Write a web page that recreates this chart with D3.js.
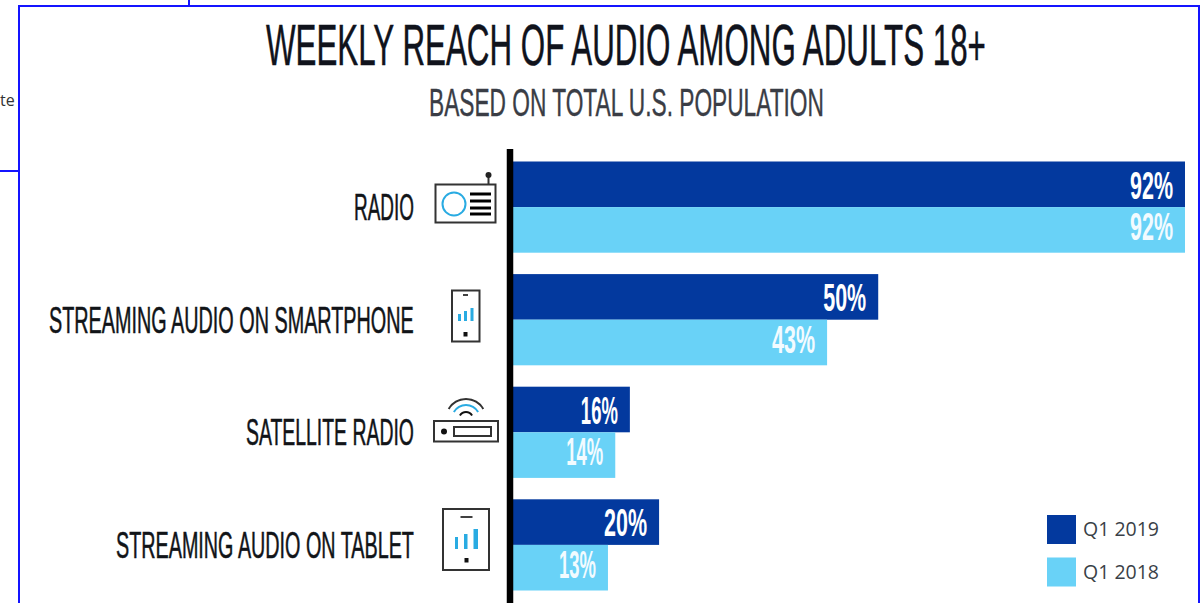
<!DOCTYPE html>
<html>
<head>
<meta charset="utf-8">
<script src="https://cdnjs.cloudflare.com/ajax/libs/d3/7.8.5/d3.min.js"></script>
<style>
html,body{margin:0;padding:0;background:#fff;overflow:hidden}
svg{display:block}
.cond{font-family:"Liberation Sans Narrow","Liberation Sans",sans-serif}
</style>
</head>
<body>
<svg id="chart" width="1203" height="603"></svg>
<script>
const categories = ["RADIO", "STREAMING AUDIO ON SMARTPHONE", "SATELLITE RADIO", "STREAMING AUDIO ON TABLET"];
const seriesNames = ["Q1 2019", "Q1 2018"];
const q12019 = [92, 50, 16, 20];
const q12018 = [92, 43, 14, 13];
const colors = ["#03399e", "#69d2f7"];

const svg = d3.select("#chart");
const FRAME = "#1414ff";

// Panel frame and the neighbouring window fragments
const frameSegments = [[18,6,1200,6],[19,6,19,603],[1199,6,1199,603],[189,0,189,6],[0,171,19,171]];
svg.selectAll("line.frame").data(frameSegments).join("line").attr("class","frame")
  .attr("x1",d=>d[0]).attr("y1",d=>d[1]).attr("x2",d=>d[2]).attr("y2",d=>d[3])
  .attr("stroke",FRAME).attr("stroke-width",2);
svg.append("text").attr("x",0).attr("y",106).attr("font-family","Open Sans").attr("font-size",16).attr("fill","#333").text("te");

// Tall condensed lettering: set at full height, then squeezed horizontally to a target width
function condensed(parent, xPos, yPos, size, width, anchor, txt, fill, weight, outline) {
  const t = parent.append("text").attr("class","cond")
    .attr("font-size",size).attr("font-weight",weight).attr("fill",fill)
    .attr("stroke",fill).attr("stroke-width",outline).text(txt);
  const natural = t.node().getComputedTextLength();
  const sx = width / natural;
  const left = anchor === "end" ? xPos - width : xPos;
  t.attr("transform",`translate(${left},${yPos}) scale(${sx},1)`);
  return t;
}
condensed(svg, 266, 65, 58, 720, "start", "WEEKLY REACH OF AUDIO AMONG ADULTS 18+", "#10131c", "normal", 0.5);
condensed(svg, 429, 116, 39, 395, "start", "BASED ON TOTAL U.S. POPULATION", "#3a3d45", "normal", 0.4);

const x = d3.scaleLinear().domain([0, 92]).range([513, 1185]);
const y = d3.scaleBand().domain(categories).range([161.5, 590.5]).paddingInner(0.19).paddingOuter(0);
const inner = d3.scaleBand().domain(seriesNames).range([0, y.bandwidth()]);

const categoryLabelWidths = [60, 365, 168, 298];
const rows = categories.map((c,i)=>({c, values:[q12019[i], q12018[i]], w:categoryLabelWidths[i]}));
const groups = svg.selectAll("g.row").data(rows).join("g").attr("class","row")
  .attr("transform",d=>`translate(0,${y(d.c)})`);

groups.selectAll("rect").data(d=>d.values.map((v,i)=>({v,i}))).join("rect")
  .attr("x",x(0)).attr("y",d=>inner(seriesNames[d.i]))
  .attr("width",d=>x(d.v)-x(0)).attr("height",inner.bandwidth())
  .attr("fill",d=>colors[d.i]);

// Value labels sit inside the bar ends
groups.each(function(row){
  const g = d3.select(this);
  row.values.forEach((v,i)=>{
    const w = String(v).startsWith("1") ? 37 : 43;
    condensed(g, x(v)-12, inner(seriesNames[i]) + (i===0 ? 37 : 33), 38, w, "end", v+"%", i===0 ? "#ffffff" : "#f2fbff", "bold", 0);
  });
  condensed(g, 414, y.bandwidth()/2+13, 37, row.w, "end", row.c, "#111418", "normal", 0.55);
});

// Category baseline
svg.append("line").attr("x1",510).attr("x2",510).attr("y1",149).attr("y2",603).attr("stroke","#000").attr("stroke-width",6.5);

// Pictograms
const INK = "#333", BLUE = "#29abe2";
const icons = svg.append("g").attr("fill","none").attr("stroke",INK);
// radio
const radio = icons.append("g");
radio.append("rect").attr("x",435.5).attr("y",184.5).attr("width",60).attr("height",38).attr("stroke-width",2);
radio.append("circle").attr("cx",454).attr("cy",204).attr("r",11.5).attr("stroke",BLUE).attr("stroke-width",2);
[194,201,208,214].forEach(v=>radio.append("line").attr("x1",470).attr("x2",491).attr("y1",v).attr("y2",v).attr("stroke","#000").attr("stroke-width",3));
radio.append("line").attr("x1",488.5).attr("x2",488.5).attr("y1",175).attr("y2",184).attr("stroke-width",2);
radio.append("circle").attr("cx",488.5).attr("cy",175).attr("r",3).attr("fill","#222").attr("stroke","none");
// phone and tablet outline with signal bars
function device(bx,by,bw,bh,bars,topY,dotY,cx,dashW){
  const g=icons.append("g");
  g.append("rect").attr("x",bx).attr("y",by).attr("width",bw).attr("height",bh).attr("stroke-width",2);
  g.append("line").attr("x1",cx-dashW/2).attr("x2",cx+dashW/2).attr("y1",topY).attr("y2",topY).attr("stroke","#111").attr("stroke-width",1.6);
  g.append("rect").attr("x",cx-2).attr("y",dotY).attr("width",4).attr("height",4.5).attr("fill","#111").attr("stroke","none");
  bars.forEach(b=>g.append("rect").attr("x",b[0]).attr("y",b[1]).attr("width",b[2]).attr("height",b[3]).attr("fill",BLUE).attr("stroke","none"));
}
device(452,290.5,27.5,51,[[458,314,3,7],[464,311,3,10],[470.5,308,3,13]],295,332,465.5,5);
device(443,509,46,61,[[455,537,3,12],[464,534,3.5,15],[473.5,529,4.5,20]],517,558,466.5,12);
// satellite receiver with signal arcs
const sat = icons.append("g");
sat.append("rect").attr("x",434).attr("y",421).attr("width",64).attr("height",20.5).attr("stroke-width",2);
sat.append("circle").attr("cx",444).attr("cy",431.5).attr("r",3).attr("fill","#111").attr("stroke","none");
sat.append("rect").attr("x",454).attr("y",427).attr("width",37).attr("height",9).attr("stroke-width",2);
[[20,"#333"],[14,BLUE],[7,"#111"]].forEach(([r,col])=>{
  const arc=d3.arc().innerRadius(r-1).outerRadius(r+1).startAngle(-Math.PI/3).endAngle(Math.PI/3);
  sat.append("path").attr("transform","translate(466,419)").attr("d",arc()).attr("fill",col).attr("stroke","none");
});

// Legend
const legend = svg.selectAll("g.leg").data(seriesNames).join("g").attr("class","leg")
  .attr("transform",(d,i)=>`translate(1047,${515+i*42.5})`);
legend.append("rect").attr("width",29).attr("height",29).attr("fill",(d,i)=>colors[i]);
legend.append("text").attr("x",36).attr("y",21).attr("font-family","Open Sans").attr("font-size",19.5).attr("fill","#3a3f47").text(d=>d);
</script>
</body>
</html>
